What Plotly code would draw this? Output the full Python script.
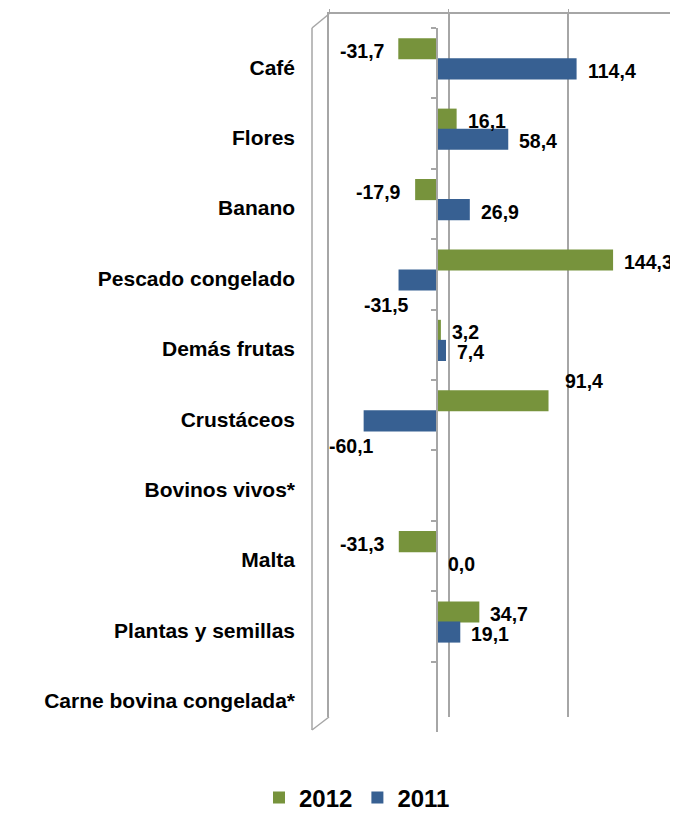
import plotly.graph_objects as go

categories = ["Café", "Flores", "Banano", "Pescado congelado", "Demás frutas",
              "Crustáceos", "Bovinos vivos*", "Malta", "Plantas y semillas",
              "Carne bovina congelada*"]
series_names = ["2012", "2011"]
values_2012 = [-31.7, 16.1, -17.9, 144.3, 3.2, 91.4, None, -31.3, 34.7, None]
values_2011 = [114.4, 58.4, 26.9, -31.5, 7.4, -60.1, None, 0.0, 19.1, None]

# Excel placed a few labels off the bar end
label_moves = {("Pescado congelado", "2011"): "below",
               ("Crustáceos", "2011"): "below",
               ("Crustáceos", "2012"): "above"}

# page has an 8px body margin: figure is drawn from (8, 8)
PAGE_W, PAGE_H, OFF = 678, 813, 8
W, H = PAGE_W - OFF, PAGE_H - OFF
# plot area in page pixels
L, R, T, B = 313, 678, 12, 732
def fx(px):
    return (px - L) / (R - L)
def fy(py):
    return (B - py) / (B - T)

GREEN = "#77933C"
BLUE = "#376092"
GRID = "#A6A6A6"
FONT = "Liberation Sans, Arial, sans-serif"

fig = go.Figure()
# dummy trace for back wall subplot
fig.add_trace(go.Scatter(x=[None], y=[None], xaxis="x", yaxis="y",
                         showlegend=False, hoverinfo="skip"))

bar_w = 0.30
offsets = {"2012": -0.355, "2011": -0.07}
colors = {"2012": GREEN, "2011": BLUE}
vals = {"2012": values_2012, "2011": values_2011}

for name in series_names:
    fig.add_trace(go.Bar(
        y=categories, x=vals[name], orientation="h", name=name,
        xaxis="x2", yaxis="y2", width=bar_w, offset=offsets[name],
        marker=dict(color=colors[name], line=dict(width=0)),
        hoverinfo="skip"))

annotations = []
for name in series_names:
    for i, (cat, v) in enumerate(zip(categories, vals[name])):
        if v is None:
            continue
        txt = f"{v:.1f}".replace(".", ",")
        yc = i + offsets[name] + bar_w / 2
        move = label_moves.get((cat, name))
        if move == "below":
            xa, xs, ys = "right", 12, -25
        elif move == "above":
            xa, xs, ys = "left", 14, 20
        elif v >= 0:
            xa, xs, ys = "left", 9, -2
        else:
            xa, xs, ys = "right", -12, -2
        annotations.append(dict(
            x=v, y=yc, xref="x2", yref="y2", text=txt, showarrow=False,
            xanchor=xa, yanchor="middle", xshift=xs, yshift=ys,
            font=dict(family=FONT, size=19.5, color="black", weight="bold")))

shapes = [
    dict(type="line", xref="paper", yref="paper", x0=fx(312), y0=fy(28),
         x1=fx(312), y1=fy(730), line=dict(color=GRID, width=1.5)),
    dict(type="line", xref="paper", yref="paper", x0=fx(312), y0=fy(28),
         x1=fx(329), y1=fy(14), line=dict(color=GRID, width=1.5)),
    dict(type="line", xref="paper", yref="paper", x0=fx(312), y0=fy(730),
         x1=fx(329), y1=fy(717), line=dict(color=GRID, width=1.5)),
]

fig.update_layout(
    width=W, height=H,
    margin=dict(l=L - OFF, r=PAGE_W - R, t=T - OFF, b=PAGE_H - B,
                autoexpand=False),
    paper_bgcolor="white", plot_bgcolor="rgba(0,0,0,0)",
    barmode="overlay",
    font=dict(family=FONT, color="black"),
    showlegend=True,
    legend=dict(orientation="h", xref="container", yref="container",
                x=(357 - OFF) / W, y=(PAGE_H - 798) / H,
                xanchor="center", yanchor="middle",
                font=dict(family=FONT, size=24, color="black", weight="bold"),
                itemwidth=30, traceorder="normal",
                tracegroupgap=0),
    # back wall
    xaxis=dict(domain=[fx(329), 1], range=[-100.8, 192.4], anchor="y",
               side="top", showline=True, linecolor=GRID, linewidth=1.5,
               showgrid=True, gridcolor=GRID, gridwidth=1.5, tick0=0, dtick=100,
               ticks="outside", ticklen=3, tickcolor=GRID,
               showticklabels=False, zeroline=False, fixedrange=True),
    yaxis=dict(domain=[fy(717), fy(14)], range=[0, 1], anchor="x",
               showline=True, linecolor=GRID, linewidth=1.5, showgrid=False,
               zeroline=False, showticklabels=False, ticks="", fixedrange=True),
    # front bars
    xaxis2=dict(domain=[0, 1], range=[-101.6, 197.5], anchor="y2",
                visible=False, fixedrange=True),
    yaxis2=dict(domain=[0, fy(28)], type="category", categoryarray=categories,
                categoryorder="array", range=[9.5, -0.5], anchor="free",
                position=fx(437), showline=True, linecolor=GRID, linewidth=1.5,
                ticks="outside", ticklen=5, tickcolor=GRID, tickwidth=1.5,
                tickson="boundaries", showgrid=False, zeroline=False,
                ticklabelstandoff=137, ticklabelshift=-4, automargin=False,
                tickfont=dict(family=FONT, size=21, color="black", weight="bold"),
                fixedrange=True),
    annotations=annotations,
    shapes=shapes,
)

fig.write_html("out.html")
